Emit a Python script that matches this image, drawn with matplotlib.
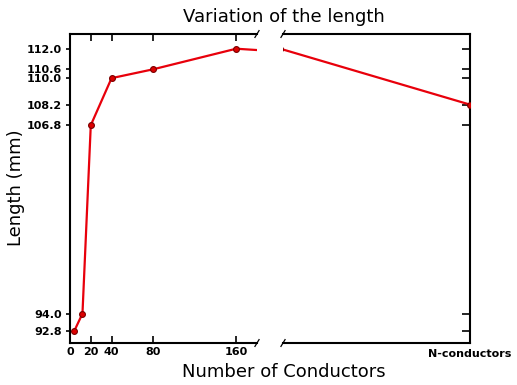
import matplotlib
matplotlib.use("Agg")
import matplotlib.pyplot as plt

# data
n_conductors = [4, 12, 20, 40, 80, 160, 1000]
length_mm = [92.8, 94.0, 106.8, 110.0, 110.6, 112.0, 108.2]
left_xticks = [0, 20, 40, 80, 160]
left_xticklabels = ["0", "20", "40", "80", "160"]
right_xticks = [1000]
right_xticklabels = ["N-conductors"]
yticks = [92.8, 94.0, 106.8, 108.2, 110.0, 110.6, 112.0]

fig = plt.figure(figsize=(5.17, 3.85), dpi=100)
W, H = 517, 385
def rect(x0, x1, y0, y1):
    return [x0 / W, 1 - y1 / H, (x1 - x0) / W, (y1 - y0) / H]

ax1 = fig.add_axes(rect(70, 257, 34, 343))
ax2 = fig.add_axes(rect(283, 470, 34, 343))

for ax in (ax1, ax2):
    ax.plot(n_conductors, length_mm, color="#e8000b", lw=1.6, marker="o",
            markersize=4.2, markerfacecolor="#dd0000", markeredgecolor="#7a0000",
            markeredgewidth=0.8, zorder=3)
    ax.set_ylim(92.0, 113.0)
    ax.set_yticks(yticks)
    for sp in ax.spines.values():
        sp.set_linewidth(1.5)

ax1.set_xlim(0, 180)
ax2.set_xlim(172, 1000)

ax1.spines["right"].set_visible(False)
ax2.spines["left"].set_visible(False)

ax1.set_xticks(left_xticks)
ax1.set_xticklabels(left_xticklabels)
ax1.set_yticklabels([f"{v:.1f}" for v in yticks])
ax1.tick_params(axis="x", which="both", direction="in", top=True, bottom=True,
                length=5, width=1.2, pad=3.0, labelsize=8)
ax1.tick_params(axis="y", which="both", direction="out", left=True, right=False,
                length=3, width=1.2, pad=3.0, labelsize=8)

ax2.set_xticks(right_xticks)
ax2.set_xticklabels(right_xticklabels)
ax2.tick_params(axis="x", which="both", direction="in", top=False, bottom=True,
                length=0, pad=4.0, labelsize=8)
ax2.tick_params(axis="y", which="both", direction="in", left=False, right=True,
                labelleft=False, length=6, width=1.2)

for ax in (ax1, ax2):
    for lab in ax.get_xticklabels() + ax.get_yticklabels():
        lab.set_fontweight("bold")

# break marks
d = 0.011
kw = dict(color="k", clip_on=False, lw=0.9)
ax1.plot((1 - d, 1 + d), (-d, d), transform=ax1.transAxes, **kw)
ax1.plot((1 - d, 1 + d), (1 - d, 1 + d), transform=ax1.transAxes, **kw)
ax2.plot((-d, d), (-d, d), transform=ax2.transAxes, **kw)
ax2.plot((-d, d), (1 - d, 1 + d), transform=ax2.transAxes, **kw)

fig.text(284 / W, 1 - 17 / H, "Variation of the length", ha="center", va="center", fontsize=13)
fig.text(284 / W, 1 - 372 / H, "Number of Conductors", ha="center", va="center", fontsize=13)
fig.text(16 / W, 1 - 188 / H, "Length (mm)", ha="center", va="center", rotation=90, fontsize=13)

fig.savefig("out.png", dpi=100)
